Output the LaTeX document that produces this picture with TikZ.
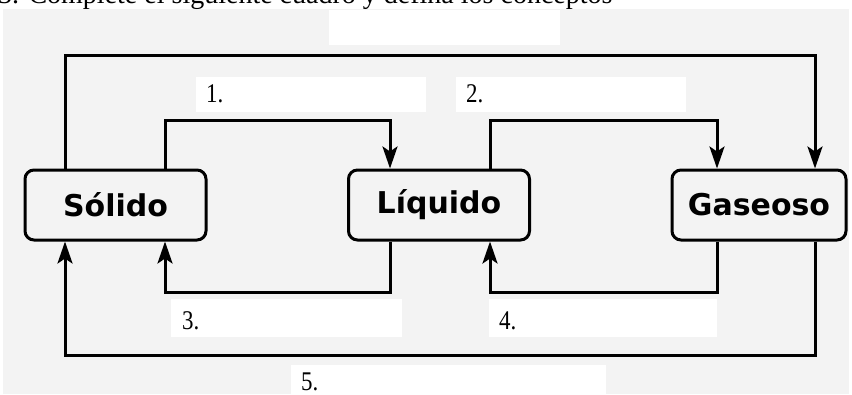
\documentclass[tikz,border=0pt]{standalone}
\usepackage{graphicx}
\usepackage{fontspec}
\setmainfont{Liberation Serif}
\setsansfont{DejaVu Sans}
\usetikzlibrary{arrows.meta}
\definecolor{paper}{HTML}{F3F3F3}
\newcommand{\narrow}[1]{\scalebox{0.85}[1]{#1}}
\begin{document}
\begin{tikzpicture}[x=1pt,y=-1pt,
  state/.style={draw, line width=3pt, rounded corners=9pt, minimum height=70pt,
    inner sep=0pt, font=\sffamily\bfseries\fontsize{30}{34}\selectfont},
  link/.style={line width=3pt, -{Stealth[length=22pt,width=15pt,inset=5pt]}},
  blank/.style={fill=white, draw=none},
  num/.style={anchor=base west, inner sep=0pt, font=\fontsize{27}{30}\selectfont}]
\useasboundingbox (0,0) rectangle (852,394);
\fill[white] (0,0) rectangle (852,394);
\fill[paper] (3,9) rectangle (849,394);

% heading line, cut off at the top edge
\begin{scope}
  \clip (0,0) rectangle (852,394);
  \node[anchor=base west, inner sep=0pt, font=\fontsize{28}{32}\selectfont] (head) at (-2,3)
    {3. Complete el siguiente cuadro y defina los conceptos};
\end{scope}

% blank answer fields
\fill[blank] (329,10) rectangle (560,45);
\fill[blank] (196,77) rectangle (426,112);
\fill[blank] (456,77) rectangle (686,112);
\fill[blank] (171,299) rectangle (402,337);
\fill[blank] (489,299) rectangle (717,337);
\fill[blank] (291,365) rectangle (606,394);

% states of matter
\node[state, minimum width=181pt] (sol) at (115.5,205) {Sólido};
\node[state, minimum width=181pt] (liq) at (439,205) {Líquido};
\node[state, minimum width=174pt] (gas) at (759,205) {Gaseoso};

% changes of state
\draw[link] (sol.north -| 165,0) -- (165,120) -| (liq.north -| 390,0);
\draw[link] (liq.north -| 490,0) -- (490,120) -| (gas.north -| 717,0);
\draw[link] (liq.south -| 390,0) -- (390,292) -| (sol.south -| 165,0);
\draw[link] (gas.south -| 717,0) -- (717,292) -| (liq.south -| 490,0);
\draw[link] (sol.north -| 65,0) -- (65,55) -| (gas.north -| 815,0);
\draw[link] (gas.south -| 815,0) -- (815,355) -| (sol.south -| 65,0);

% numbering of the blanks
\node[num] (n1) at (206,102) {\narrow{1.}};
\node[num] (n2) at (466,102) {\narrow{2.}};
\node[num] (n3) at (182,329) {\narrow{3.}};
\node[num] (n4) at (499,329) {\narrow{4.}};
\node[num] (n5) at (301,390) {\narrow{5.}};
\end{tikzpicture}
\end{document}
